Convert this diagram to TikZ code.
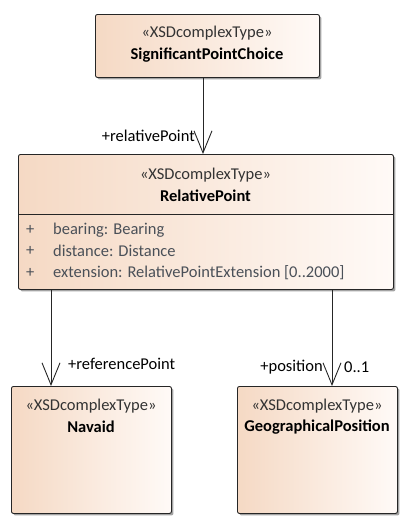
\documentclass[tikz,border=0pt]{standalone}
\usepackage{fontspec}
\setmainfont{Carlito}
\usetikzlibrary{arrows.meta,shadows}
\definecolor{peach}{HTML}{F5D9C4}
\definecolor{peachlight}{HTML}{FFFAF7}
\definecolor{attr}{HTML}{4A5058}
\tikzset{
  umlbox/.style={draw=black!85, line width=0.9pt, rounded corners=2pt,
    left color=peach, right color=peachlight,
    drop shadow={shadow xshift=2pt, shadow yshift=-2pt, fill=black!45, opacity=0.8},
    anchor=north west, inner sep=0pt},
  stereo/.style={font=\fontsize{16.5}{18}\selectfont, text=black!80, inner sep=0pt},
  cname/.style={font=\fontsize{16.5}{18}\selectfont\bfseries, inner sep=0pt},
  attrtxt/.style={font=\fontsize{16.5}{18}\selectfont, text=attr, inner sep=0pt, anchor=west},
  lbl/.style={font=\fontsize{16.5}{18}\selectfont, inner sep=0pt},
  assoc/.style={draw=black!85, line width=0.9pt, -{Straight Barb[length=22pt,width=18pt,line width=0.9pt]}},
}
\begin{document}
\begin{tikzpicture}[x=1pt,y=-1pt]
\useasboundingbox (0,0) rectangle (410,525);
% boxes
\node[umlbox, minimum width=224pt, minimum height=63pt] (spc) at (95,14) {};
\node[stereo] at (207,33) {«XSDcomplexType»};
\node[cname] at (207,55) {SignificantPointChoice};

\node[umlbox, minimum width=375pt, minimum height=135pt] (rp) at (18,154) {};
\draw[draw=black!85, line width=0.9pt] (rp.west |- 0,214) -- (rp.east |- 0,214);
\node[stereo] at (205.5,175) {«XSDcomplexType»};
\node[cname] at (205.5,196) {RelativePoint};
\node[attrtxt] at (26,230) {+};
\node[attrtxt] at (53,230) {bearing: Bearing};
\node[attrtxt] at (26,251) {+};
\node[attrtxt] at (53,251) {distance: Distance};
\node[attrtxt] at (26,273) {+};
\node[attrtxt] at (53,273) {extension: RelativePointExtension [0..2000]};

\node[umlbox, minimum width=160pt, minimum height=127pt] (nav) at (11,386) {};
\node[stereo] at (91,406) {«XSDcomplexType»};
\node[cname] at (91,427) {Navaid};

\node[umlbox, minimum width=160pt, minimum height=127pt] (geo) at (237,386) {};
\node[stereo] at (317,406) {«XSDcomplexType»};
\node[cname] at (317,427) {GeographicalPosition};

% connectors
\coordinate (a1) at (203,77);
\coordinate (a2) at (203,154);
\draw[assoc] (a1) -- (a2);
\node[lbl, anchor=east] at (195,136) {+relativePoint};

\coordinate (b1) at (51,289);
\coordinate (b2) at (51,386);
\draw[assoc] (b1) -- (b2);
\node[lbl, anchor=west] at (68,364) {+referencePoint};

\coordinate (c1) at (332,289);
\coordinate (c2) at (332,386);
\draw[assoc] (c1) -- (c2);
\node[lbl, anchor=east] at (323,367) {+position};
\node[lbl, anchor=west] at (344,367) {0..1};
\end{tikzpicture}
\end{document}
